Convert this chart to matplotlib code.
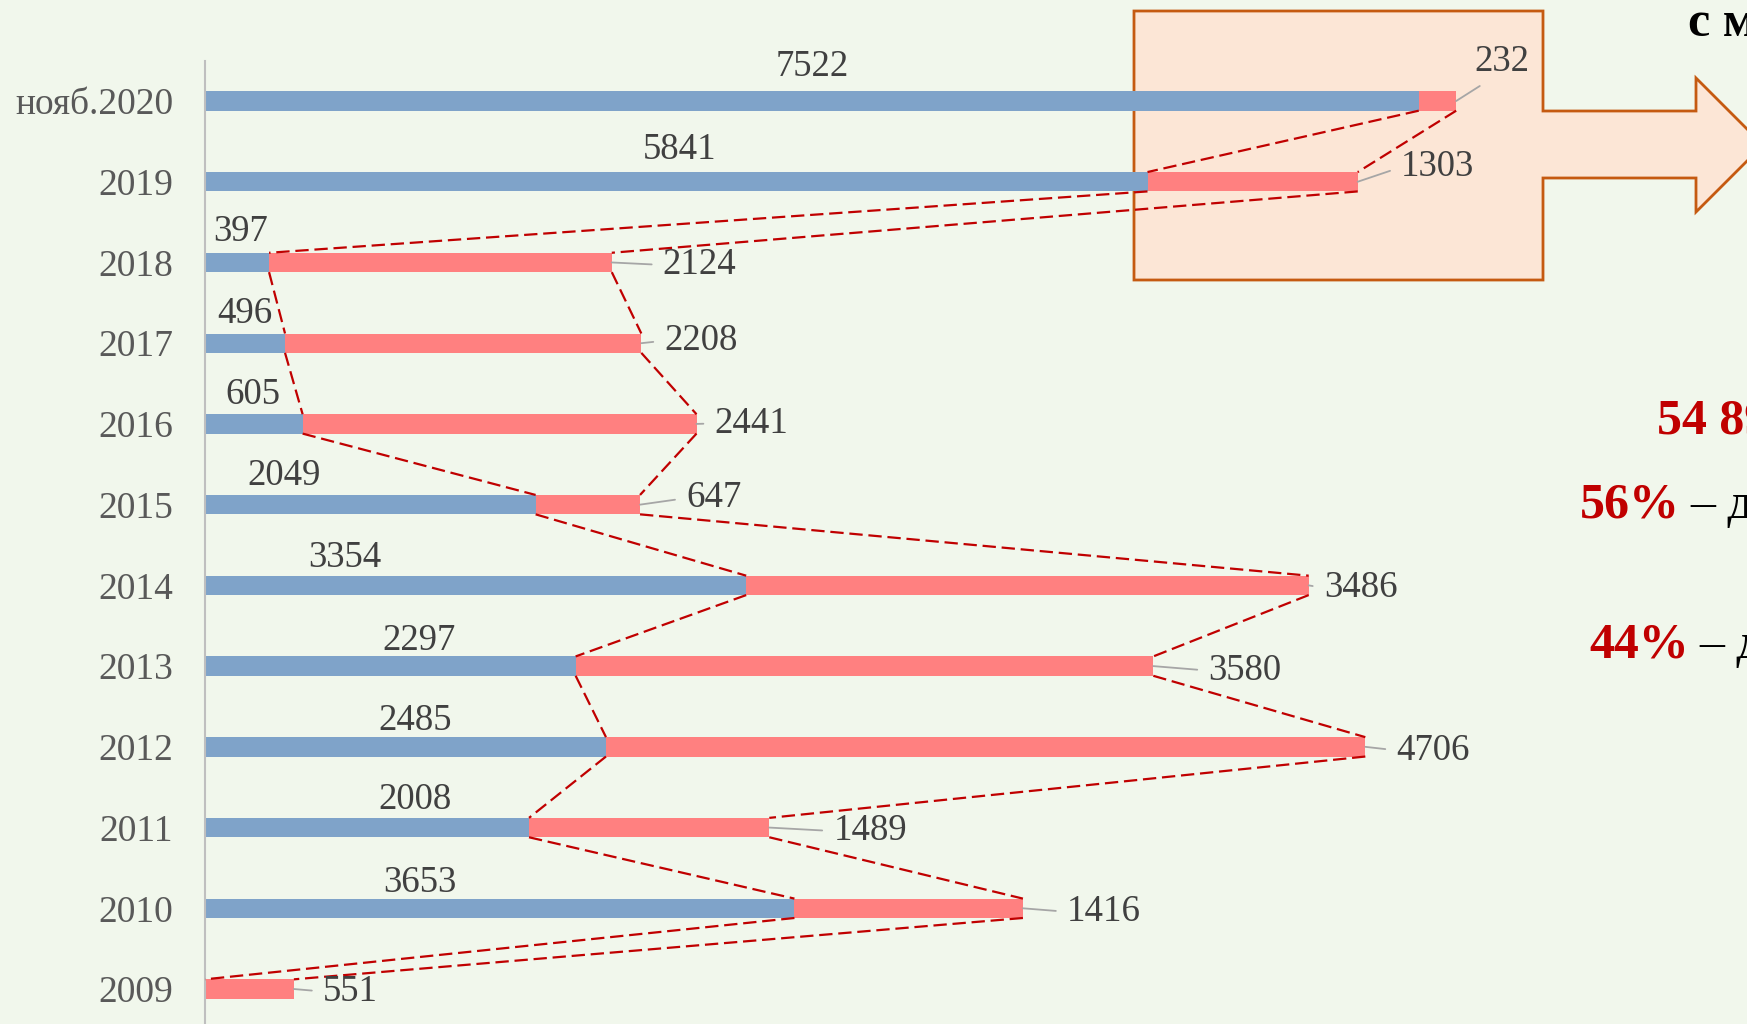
import matplotlib.pyplot as plt
from matplotlib.patches import Polygon

plt.rcParams['font.family'] = ['Liberation Serif', 'DejaVu Serif']

years = ['нояб.2020', '2019', '2018', '2017', '2016', '2015', '2014',
         '2013', '2012', '2011', '2010', '2009']
blue_vals = [7522, 5841, 397, 496, 605, 2049, 3354, 2297, 2485, 2008, 3653, 0]
red_vals = [232, 1303, 2124, 2208, 2441, 647, 3486, 3580, 4706, 1489, 1416, 551]

# label placement (pixel offsets), as laid out by hand in the original
blue_offsets = [(0, 34.5), (3, 32.3), (4, 31), (0, 29), (-1, 29), (-86, 29),
                (-131, 28), (29, 25.6), (10, 25.6), (48, 28), (-80, 25.6)]
red_offsets = [(46, 39.5), (43, 14.5), (51, -2.5), (23, 2.5), (18, 0.5),
               (46, 6.5), (15, -2.5), (55, -4.5), (31, -3.5), (64, -3.5),
               (44, -3.5), (29, -2.5)]

W, H = 1747, 1024
bg = '#f1f7ec'
blue = '#7fa3c9'
red = '#ff8080'
dash_col = '#c00000'
lab_col = '#404040'

fig = plt.figure(figsize=(W / 100, H / 100), dpi=100, facecolor=bg)


def px(x, y):
    return (x / W, 1 - y / H)


# callout box with arrow (behind the chart)
shape = [px(1134, 11), px(1543, 11), px(1543, 111), px(1696, 111),
         px(1696, 78), px(1763, 145), px(1696, 212), px(1696, 178),
         px(1543, 178), px(1543, 280), px(1134, 280)]
fig.add_artist(Polygon(shape, closed=True, transform=fig.transFigure,
                       facecolor='#fce6d6', edgecolor='#c55a11',
                       linewidth=2, zorder=-1))

ax = fig.add_axes([205 / W, 0, 1 - 205 / W, 1 - 61 / H])
ax.set_facecolor('none')
px_per_unit = 942.5 / 5841
ax.set_xlim(0, (W - 205) / px_per_unit)
row_px = 80.73
ax.set_ylim((H - 101) / row_px, -40 / row_px)

pos = list(range(len(years)))
h = 0.24
ax.barh(pos, blue_vals, height=h, color=blue, zorder=2)
ax.barh(pos, red_vals, left=blue_vals, height=h, color=red, zorder=2)

# series lines between bars
ends_blue = blue_vals
ends_red = [b + r for b, r in zip(blue_vals, red_vals)]
for i in range(len(years) - 1):
    for ends in (ends_blue, ends_red):
        ax.plot([ends[i], ends[i + 1]], [pos[i] + h / 2, pos[i + 1] - h / 2],
                color=dash_col, lw=1.6, linestyle=(0, (6, 2.6)), zorder=3)

# labels
for i in pos:
    if blue_vals[i] > 0:
        ax.annotate(str(blue_vals[i]), (blue_vals[i] / 2, pos[i]),
                    xytext=blue_offsets[i], textcoords='offset pixels',
                    ha='center', va='center', fontsize=26.5, color=lab_col)
    if i == 0:
        ha, rel = 'center', (0.3, 0.0)
    else:
        ha, rel = 'left', (0.0, 0.5)
    ax.annotate(str(red_vals[i]), (ends_red[i], pos[i]),
                xytext=red_offsets[i], textcoords='offset pixels',
                ha=ha, va='center', fontsize=26.5, color=lab_col,
                arrowprops=dict(arrowstyle='-', color='#a6a6a6', lw=1.3,
                                relpos=rel, shrinkA=6, shrinkB=0))

ax.set_yticks(pos)
ax.set_yticklabels(years, fontsize=27, color='#595959')
ax.tick_params(axis='y', length=0, pad=23)
ax.set_xticks([])
for s in ['top', 'right', 'bottom']:
    ax.spines[s].set_visible(False)
ax.spines['left'].set_color('#bfbfbf')
ax.spines['left'].set_linewidth(1.5)

# side text (runs past the right edge, as in the original slide)
fig.text(1688 / W, 1 - 24 / H, 'с м', fontsize=36, fontweight='bold',
         color='black', ha='left', va='center')
fig.text(1657 / W, 1 - 421 / H, '54 89', fontsize=36, fontweight='bold',
         color=dash_col, ha='left', va='center')
fig.text(1580 / W, 1 - 506 / H, '56%', fontsize=36, fontweight='bold',
         color=dash_col, ha='left', va='center')
fig.text(1690 / W, 1 - 506 / H, '– д', fontsize=36,
         color='black', ha='left', va='center')
fig.text(1589 / W, 1 - 646 / H, '44%', fontsize=36, fontweight='bold',
         color=dash_col, ha='left', va='center')
fig.text(1699 / W, 1 - 646 / H, '– д', fontsize=36,
         color='black', ha='left', va='center')

fig.savefig('out.png', dpi=100, facecolor=bg)
